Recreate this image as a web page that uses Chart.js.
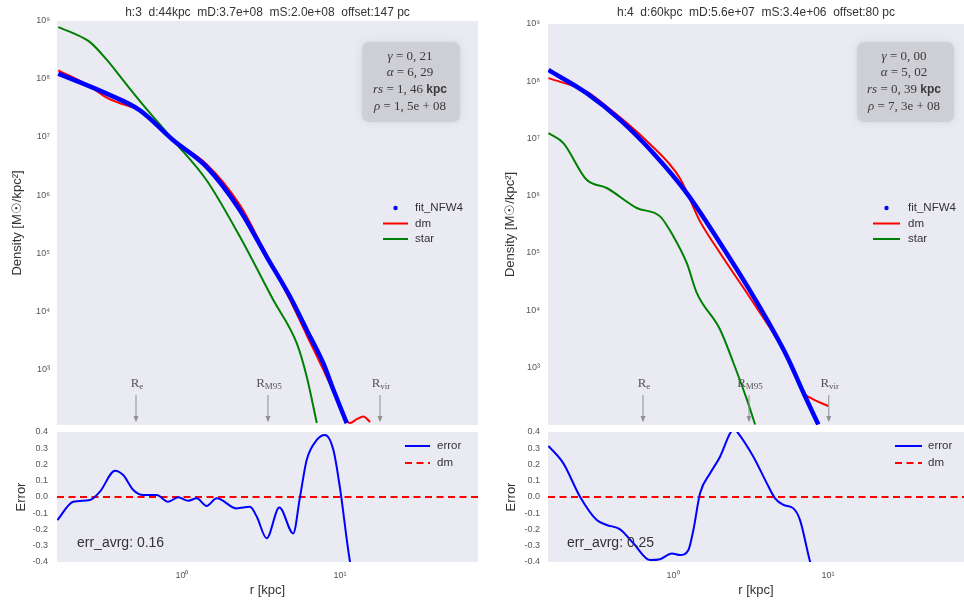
<!DOCTYPE html>
<html><head><meta charset="utf-8">
<script src="https://cdn.jsdelivr.net/npm/chart.js@4.4.0/dist/chart.umd.min.js"></script>
<style>
html,body{margin:0;padding:0;background:#fff;width:964px;height:602px;overflow:hidden;}
canvas{position:absolute;}
</style></head><body>
<canvas id="tl" width="480" height="425" style="left:0;top:0"></canvas>
<canvas id="tr" width="474" height="425" style="left:490px;top:0"></canvas>
<canvas id="bl" width="480" height="174" style="left:0;top:428px"></canvas>
<canvas id="br" width="474" height="174" style="left:490px;top:428px"></canvas>
<script>
// ---------------- DATA ----------------
const h3Title = 'h:3  d:44kpc  mD:3.7e+08  mS:2.0e+08  offset:147 pc';
const h4Title = 'h:4  d:60kpc  mD:5.6e+07  mS:3.4e+06  offset:80 pc';

// halo 3 (left) density profiles, r in kpc, density in Msun/kpc^2
const h3FitR   = [0.165, 0.334, 0.542, 0.881, 1.432, 2.328, 3.436, 4.831, 6.152, 7.834, 9.078, 11.02];
const h3FitRho = [1.22e8, 5.53e7, 2.86e7, 8.75e6, 3.05e6, 5.51e5, 8.71e4, 1.79e4, 4.82e3, 1.29e3, 451, 121];
const h3DmR    = [0.165, 0.262, 0.334, 0.425, 0.542, 0.881, 1.432, 2.328, 3.258, 4.831, 6.152, 7.834, 9.078, 10.5, 11.56, 12.76, 14.06, 15.49];
const h3DmRho  = [1.39e8, 7.4e7, 4.72e7, 3.62e7, 2.86e7, 8.75e6, 3.39e6, 6.71e5, 1.23e5, 1.57e4, 3.95e3, 1.0e3, 417, 168, 121, 141, 157, 126];
const h3StarR  = [0.165, 0.205, 0.262, 0.334, 0.425, 0.542, 0.881, 1.432, 2.328, 3.784, 5.321, 6.152, 7.129];
const h3StarRho= [7.67e8, 6.05e8, 4.25e8, 2.12e8, 9.35e7, 4.13e7, 8.75e6, 1.80e6, 1.92e5, 1.57e4, 2.85e3, 762, 121];
const h3ErrR   = [0.163, 0.205, 0.262, 0.303, 0.377, 0.425, 0.492, 0.569, 0.692, 0.818, 0.948, 1.096, 1.239, 1.432, 1.660, 2.218, 2.692, 2.97, 3.436, 4.130, 5.058, 5.58, 6.152, 7.129, 8.035, 9.078, 10.0, 11.56, 12.59];
const h3ErrVal = [-0.142, -0.029, -0.018, 0.033, 0.162, 0.135, 0.043, 0.012, 0.012, -0.029, -0.002, -0.023, -0.008, -0.055, -0.008, -0.070, -0.06, -0.12, -0.254, -0.064, -0.224, 0.0, 0.228, 0.351, 0.382, 0.289, 0.053, -0.398, -0.55];
const h3Radii  = [0.512, 3.50, 17.9];           // R_e, R_M95, R_vir
const h3ParamVals = ['0, 21', '6, 29', '1, 46', '1, 5e + 08'];
const h3ErrAvg = 'err_avrg: 0.16';

// halo 4 (right)
const h4FitR   = [0.157, 0.277, 0.455, 0.746, 1.225, 2.009, 3.296, 5.420, 6.934, 8.650];
const h4FitRho = [1.57e8, 6.18e7, 2.11e7, 5.53e6, 1.11e6, 1.49e5, 1.74e4, 1.56e3, 359, 100];
const h4DmR    = [0.157, 0.277, 0.373, 0.676, 1.109, 1.493, 2.009, 3.296, 5.420, 6.934, 7.656, 10.05];
const h4DmRho  = [1.13e8, 6.58e7, 3.61e7, 9.0e6, 2.0e6, 3.55e5, 9.95e4, 1.34e4, 1.56e3, 359, 294, 209];
const h4StarR  = [0.157, 0.196, 0.277, 0.373, 0.583, 0.824, 1.005, 1.225, 1.422, 2.009, 2.449, 2.992, 3.381];
const h4StarRho= [1.24e7, 8.28e6, 1.89e6, 1.36e6, 6.08e5, 4.34e5, 1.94e5, 6.67e4, 2.0e4, 4.57e3, 1.20e3, 274, 100];
const h4ErrR   = [0.157, 0.196, 0.251, 0.322, 0.373, 0.455, 0.555, 0.711, 0.824, 0.982, 1.109, 1.256, 1.352, 1.493, 1.734, 2.009, 2.333, 2.477, 2.636, 3.296, 4.027, 4.550, 5.152, 5.970, 6.592, 7.656, 8.318];
const h4ErrVal = [0.314, 0.207, 0.002, -0.142, -0.172, -0.199, -0.285, -0.388, -0.383, -0.347, -0.357, -0.326, -0.203, 0.023, 0.146, 0.248, 0.392, 0.42, 0.392, 0.248, 0.084, -0.008, -0.049, -0.07, -0.142, -0.398, -0.5];
const h4Radii  = [0.640, 3.09, 10.1];
const h4ParamVals = ['0, 00', '5, 02', '0, 39', '7, 3e + 08'];
const h4ErrAvg = 'err_avrg: 0.25';

const zeroLevel = [0, 0];
const paramSymbols = ['γ', 'α', 'rs', 'ρ'];
const radiusSubs = ['e', 'M95', 'vir'];
const densityTicks = [1e3, 1e4, 1e5, 1e6, 1e7, 1e8, 1e9];
const densityTickLabels = ['10³', '10⁴', '10⁵', '10⁶', '10⁷', '10⁸', '10⁹'];
const rTicks = [1, 10];
const rTickLabels = ['10⁰', '10¹'];
const errTicks = [-0.4, -0.3, -0.2, -0.1, 0.0, 0.1, 0.2, 0.3, 0.4];
const errTickLabels = ['-0.4', '-0.3', '-0.2', '-0.1', '0.0', '0.1', '0.2', '0.3', '0.4'];

// ---------------- STYLE / LAYOUT ----------------
const SANS = "'Liberation Sans', Arial, Helvetica, sans-serif";
const SERIF = "'Liberation Serif', 'DejaVu Serif', serif";
Chart.defaults.font.family = SANS;
Chart.defaults.color = '#555';
const BG = '#eaeaf2';
const BLUE = '#0000ff', RED = '#ff0000', GREEN = '#008000';

const zip = (xs, ys) => xs.map((x, i) => ({x: x, y: ys[i]}));

const decorCfg = {
  tl: {title: h3Title, params: h3ParamVals, boxCx: 410, box: [362, 42, 98, 80], radii: h3Radii,
       legend: {x: 383, y: 208, dy: 15.5, len: 25, tx: 415, items: [['fit_NFW4', BLUE, 'dot'], ['dm', RED, 'line'], ['star', GREEN, 'line']]}},
  tr: {title: h4Title, params: h4ParamVals, boxCx: 414, box: [367, 42, 97, 80], radii: h4Radii,
       legend: {x: 383, y: 208, dy: 15.5, len: 27, tx: 418, items: [['fit_NFW4', BLUE, 'dot'], ['dm', RED, 'line'], ['star', GREEN, 'line']]}},
  bl: {note: h3ErrAvg, noteX: 77, noteY: 115,
       legend: {x: 405, y: 18, dy: 17, len: 25, tx: 437, items: [['error', BLUE, 'line'], ['dm', RED, 'dash']]}},
  br: {note: h4ErrAvg, noteX: 77, noteY: 115,
       legend: {x: 405, y: 18, dy: 17, len: 27, tx: 438, items: [['error', BLUE, 'line'], ['dm', RED, 'dash']]}}
};

function segLine(ctx, segs, cx, y) {
  let w = 0;
  segs.forEach(s => { ctx.font = s[1]; w += ctx.measureText(s[0]).width; });
  let x = cx - w / 2;
  segs.forEach(s => { ctx.font = s[1]; ctx.fillText(s[0], x, y + (s[2] || 0)); x += ctx.measureText(s[0]).width; });
}

const decor = {
  id: 'decor',
  beforeDraw(chart) {
    const {ctx, chartArea: a} = chart;
    ctx.save();
    ctx.fillStyle = BG;
    ctx.fillRect(a.left, a.top, a.right - a.left, a.bottom - a.top);
    ctx.restore();
  },
  afterDatasetsDraw(chart) {
    const o = decorCfg[chart.canvas.id];
    const {ctx, chartArea: a} = chart;
    ctx.save();
    ctx.textBaseline = 'middle';
    if (o.title) {
      ctx.fillStyle = '#333';
      ctx.font = '12px ' + SANS;
      ctx.textAlign = 'center';
      ctx.fillText(o.title, (a.left + a.right) / 2, 12.5);
    }
    if (o.params) {
      const b = o.box;
      ctx.save();
      ctx.fillStyle = 'rgba(205,205,212,0.85)';
      ctx.shadowColor = 'rgba(205,205,212,0.9)';
      ctx.shadowBlur = 7;
      ctx.beginPath();
      if (ctx.roundRect) ctx.roundRect(b[0], b[1], b[2], b[3], 7); else ctx.rect(b[0], b[1], b[2], b[3]);
      ctx.fill();
      ctx.restore();
      ctx.fillStyle = '#3a3a3a';
      ctx.textAlign = 'left';
      const ys = [57, 73, 90, 106.5];
      o.params.forEach((v, i) => {
        const segs = [[paramSymbols[i], 'italic 13px ' + SERIF], [' = ' + v, '13px ' + SERIF]];
        if (i === 2) segs.push([' kpc', 'bold 12px ' + SANS]);
        segLine(ctx, segs, o.boxCx, ys[i]);
      });
    }
    if (o.radii) {
      const xs = chart.scales.x;
      o.radii.forEach((r, i) => {
        const x = xs.getPixelForValue(r);
        ctx.strokeStyle = '#909090';
        ctx.lineWidth = 1;
        ctx.beginPath(); ctx.moveTo(x, 395); ctx.lineTo(x, 421); ctx.stroke();
        ctx.fillStyle = '#909090';
        ctx.beginPath(); ctx.moveTo(x - 2.5, 416); ctx.lineTo(x + 2.5, 416); ctx.lineTo(x, 422); ctx.closePath(); ctx.fill();
        ctx.fillStyle = '#555';
        ctx.textAlign = 'left';
        segLine(ctx, [['R', '13px ' + SERIF], [radiusSubs[i], '9px ' + SERIF, 3]], x + 1, 384);
      });
    }
    if (o.legend) {
      const L = o.legend;
      L.items.forEach((it, i) => {
        const y = L.y + i * L.dy;
        ctx.strokeStyle = it[1]; ctx.fillStyle = it[1];
        if (it[2] === 'dot') {
          ctx.beginPath(); ctx.arc(L.x + L.len / 2, y, 2.2, 0, Math.PI * 2); ctx.fill();
        } else {
          ctx.lineWidth = 2;
          ctx.setLineDash(it[2] === 'dash' ? [7, 4.5] : []);
          ctx.beginPath(); ctx.moveTo(L.x, y); ctx.lineTo(L.x + L.len, y); ctx.stroke();
          ctx.setLineDash([]);
        }
        ctx.fillStyle = '#333';
        ctx.font = '11.5px ' + SANS;
        ctx.textAlign = 'left';
        ctx.fillText(it[0], L.tx, y);
      });
    }
    if (o.note) {
      ctx.fillStyle = '#333';
      ctx.font = '14px ' + SANS;
      ctx.textAlign = 'left';
      ctx.fillText(o.note, o.noteX, o.noteY);
    }
    ctx.restore();
  }
};

const baseOpts = {responsive: false, animation: false, events: [],
  plugins: {legend: {display: false}, tooltip: {enabled: false}}};

function fixV(w) { return s => { s.width = w; s.paddingTop = 0; s.paddingBottom = 0; }; }
function fixH(h) { return s => { s.height = h; s.paddingLeft = 0; s.paddingRight = 0; }; }

function densityChart(id, P) {
  return new Chart(document.getElementById(id), {
    type: 'line',
    data: {datasets: [
      {label: 'fit_NFW4', data: zip(P.fitR, P.fitRho), borderColor: BLUE, borderWidth: 4.5, pointRadius: 0, cubicInterpolationMode: 'monotone'},
      {label: 'dm', data: zip(P.dmR, P.dmRho), borderColor: RED, borderWidth: 2, pointRadius: 0, cubicInterpolationMode: 'monotone'},
      {label: 'star', data: zip(P.starR, P.starRho), borderColor: GREEN, borderWidth: 2, pointRadius: 0, cubicInterpolationMode: 'monotone'}
    ]},
    options: Object.assign({}, baseOpts, {
      layout: {padding: {left: 0, right: P.padRight, top: P.padTop, bottom: 0}},
      scales: {
        x: {type: 'logarithmic', min: P.xmin, max: P.xmax, display: false},
        y: {type: 'logarithmic', min: P.ymin, max: P.ymax,
            afterFit: fixV(P.yw),
            afterBuildTicks: s => { s.ticks = densityTicks.map(v => ({value: v})); },
            ticks: {callback: v => densityTickLabels[densityTicks.indexOf(v)], font: {size: 9}, color: '#555', padding: P.tickPad, autoSkip: false, maxRotation: 0},
            grid: {display: false, drawTicks: false}, border: {display: false},
            title: {display: true, text: 'Density [M☉/kpc²]', font: {size: 13}, color: '#333', padding: {top: P.titlePad, bottom: 0}}}
      }
    }),
    plugins: [decor]
  });
}

function errorChart(id, P) {
  return new Chart(document.getElementById(id), {
    type: 'line',
    data: {datasets: [
      {label: 'error', data: zip(P.errR, P.errVal), borderColor: BLUE, borderWidth: 2, pointRadius: 0, cubicInterpolationMode: 'monotone'},
      {label: 'dm', data: zip([P.xmin, P.xmax], zeroLevel), borderColor: RED, borderWidth: 2, borderDash: [7, 4.5], pointRadius: 0}
    ]},
    options: Object.assign({}, baseOpts, {
      layout: {padding: {left: 0, right: P.padRight, top: 4, bottom: 0}},
      scales: {
        x: {type: 'logarithmic', min: P.xmin, max: P.xmax,
            afterFit: fixH(40),
            afterBuildTicks: s => { s.ticks = rTicks.map(v => ({value: v})); },
            ticks: {callback: v => rTickLabels[rTicks.indexOf(v)], font: {size: 9}, color: '#555', padding: 8, autoSkip: false, maxRotation: 0},
            grid: {display: false, drawTicks: false}, border: {display: false},
            title: {display: true, text: 'r [kpc]', font: {size: 13}, color: '#333', padding: {top: 0, bottom: 4}}},
        y: {type: 'linear', min: -0.4, max: 0.4,
            afterFit: fixV(P.yw),
            afterBuildTicks: s => { s.ticks = errTicks.map(v => ({value: v})); },
            ticks: {callback: (v, i) => errTickLabels[i], font: {size: 9}, color: '#555', padding: P.tickPad, autoSkip: false},
            grid: {display: false, drawTicks: false}, border: {display: false},
            title: {display: true, text: 'Error', font: {size: 13}, color: '#333', padding: {top: P.titlePad, bottom: 0}}}
      }
    }),
    plugins: [decor]
  });
}

densityChart('tl', {fitR: h3FitR, fitRho: h3FitRho, dmR: h3DmR, dmRho: h3DmRho, starR: h3StarR, starRho: h3StarRho,
  xmin: 0.162, xmax: 74.6, ymin: 112, ymax: 9.8e8, yw: 57, padRight: 2, padTop: 21, tickPad: 7, titlePad: 10});
densityChart('tr', {fitR: h4FitR, fitRho: h4FitRho, dmR: h4DmR, dmRho: h4DmRho, starR: h4StarR, starRho: h4StarRho,
  xmin: 0.156, xmax: 75.3, ymin: 98, ymax: 1e9, yw: 58, padRight: 0, padTop: 24, tickPad: 8, titlePad: 13});
errorChart('bl', {errR: h3ErrR, errVal: h3ErrVal, xmin: 0.162, xmax: 74.6, yw: 57, padRight: 2, tickPad: 9, titlePad: 14});
errorChart('br', {errR: h4ErrR, errVal: h4ErrVal, xmin: 0.156, xmax: 75.3, yw: 58, padRight: 0, tickPad: 8, titlePad: 14});
</script>
</body></html>
